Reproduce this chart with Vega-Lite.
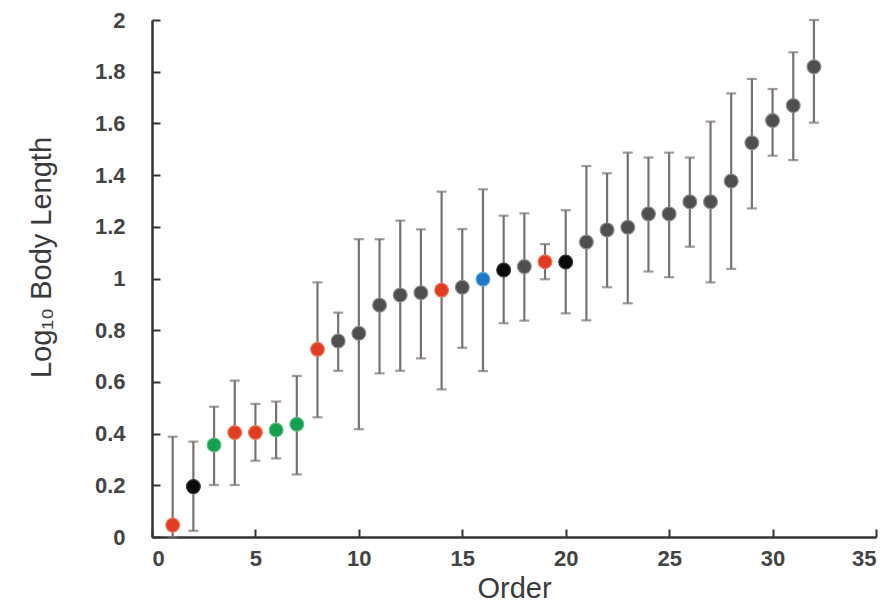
{
  "$schema": "https://vega.github.io/schema/vega-lite/v6.json",
  "autosize": "none",
  "width": 724,
  "height": 517,
  "padding": {"left": 152, "top": 20, "right": 14, "bottom": 68},
  "background": "white",
  "config": {
    "view": {"stroke": null},
    "font": "Liberation Sans",
    "axis": {
      "grid": false,
      "domainColor": "#333333",
      "domainWidth": 2.5,
      "tickColor": "#333333",
      "tickWidth": 2,
      "tickSize": -8,
      "labelFont": "Liberation Sans",
      "labelFontSize": 22,
      "labelFontWeight": "bold",
      "labelColor": "#444444",
      "titleFont": "Liberation Sans",
      "titleFontSize": 29,
      "titleFontWeight": "normal",
      "titleColor": "#3a3a3a"
    }
  },
  "data": {
    "values": [
      {"order": 1, "y": 0.046, "lo": 0.0, "hi": 0.388, "group": "red"},
      {"order": 2, "y": 0.195, "lo": 0.024, "hi": 0.369, "group": "black"},
      {"order": 3, "y": 0.356, "lo": 0.201, "hi": 0.504, "group": "green"},
      {"order": 4, "y": 0.404, "lo": 0.201, "hi": 0.605, "group": "red"},
      {"order": 5, "y": 0.404, "lo": 0.295, "hi": 0.515, "group": "red"},
      {"order": 6, "y": 0.414, "lo": 0.304, "hi": 0.524, "group": "green"},
      {"order": 7, "y": 0.436, "lo": 0.242, "hi": 0.623, "group": "green"},
      {"order": 8, "y": 0.726, "lo": 0.463, "hi": 0.985, "group": "red"},
      {"order": 9, "y": 0.758, "lo": 0.643, "hi": 0.868, "group": "gray"},
      {"order": 10, "y": 0.788, "lo": 0.417, "hi": 1.152, "group": "gray"},
      {"order": 11, "y": 0.897, "lo": 0.633, "hi": 1.152, "group": "gray"},
      {"order": 12, "y": 0.936, "lo": 0.643, "hi": 1.224, "group": "gray"},
      {"order": 13, "y": 0.945, "lo": 0.691, "hi": 1.19, "group": "gray"},
      {"order": 14, "y": 0.955, "lo": 0.571, "hi": 1.336, "group": "red"},
      {"order": 15, "y": 0.966, "lo": 0.732, "hi": 1.191, "group": "gray"},
      {"order": 16, "y": 0.997, "lo": 0.642, "hi": 1.345, "group": "blue"},
      {"order": 17, "y": 1.033, "lo": 0.827, "hi": 1.243, "group": "black"},
      {"order": 18, "y": 1.046, "lo": 0.837, "hi": 1.252, "group": "gray"},
      {"order": 19, "y": 1.065, "lo": 0.997, "hi": 1.133, "group": "red"},
      {"order": 20, "y": 1.064, "lo": 0.865, "hi": 1.264, "group": "black"},
      {"order": 21, "y": 1.141, "lo": 0.838, "hi": 1.435, "group": "gray"},
      {"order": 22, "y": 1.188, "lo": 0.966, "hi": 1.407, "group": "gray"},
      {"order": 23, "y": 1.198, "lo": 0.904, "hi": 1.487, "group": "gray"},
      {"order": 24, "y": 1.25, "lo": 1.027, "hi": 1.468, "group": "gray"},
      {"order": 25, "y": 1.25, "lo": 1.005, "hi": 1.487, "group": "gray"},
      {"order": 26, "y": 1.297, "lo": 1.123, "hi": 1.468, "group": "gray"},
      {"order": 27, "y": 1.297, "lo": 0.985, "hi": 1.607, "group": "gray"},
      {"order": 28, "y": 1.377, "lo": 1.037, "hi": 1.716, "group": "gray"},
      {"order": 29, "y": 1.525, "lo": 1.271, "hi": 1.772, "group": "gray"},
      {"order": 30, "y": 1.611, "lo": 1.475, "hi": 1.733, "group": "gray"},
      {"order": 31, "y": 1.669, "lo": 1.458, "hi": 1.875, "group": "gray"},
      {"order": 32, "y": 1.819, "lo": 1.603, "hi": 2.0, "group": "gray"}
    ]
  },
  "encoding": {
    "x": {
      "field": "order",
      "type": "quantitative",
      "scale": {"domain": [0, 35], "nice": false, "zero": false},
      "axis": {"values": [0, 5, 10, 15, 20, 25, 30, 35], "title": "Order", "labelPadding": 19, "titlePadding": 5}
    }
  },
  "layer": [
    {
      "mark": {"type": "errorbar", "color": "#7a706d", "thickness": 2.2, "ticks": {"size": 10, "thickness": 2.2, "color": "#7a706d"}},
      "encoding": {
        "y": {
          "field": "lo",
          "type": "quantitative",
          "scale": {"domain": [0, 2], "nice": false},
          "axis": {"values": [0, 0.2, 0.4, 0.6, 0.8, 1, 1.2, 1.4, 1.6, 1.8, 2], "format": "~g", "title": "Log₁₀ Body Length", "labelPadding": 35, "titlePadding": 38, "titleY": 237}
        },
        "y2": {"field": "hi"}
      }
    },
    {
      "mark": {"type": "circle", "size": 190, "opacity": 1, "strokeWidth": 1.2},
      "encoding": {
        "y": {"field": "y", "type": "quantitative"},
        "color": {
          "field": "group",
          "type": "nominal",
          "scale": {"domain": ["red", "green", "black", "gray", "blue"], "range": ["#e03c24", "#13a050", "#0a0a0a", "#4f4f4f", "#1f78c8"]},
          "legend": null
        },
        "stroke": {
          "field": "group",
          "type": "nominal",
          "scale": {"domain": ["red", "green", "black", "gray", "blue"], "range": ["#f07a5a", "#5cc080", "#333333", "#8a8a8a", "#6aa8e0"]},
          "legend": null
        }
      }
    }
  ]
}
